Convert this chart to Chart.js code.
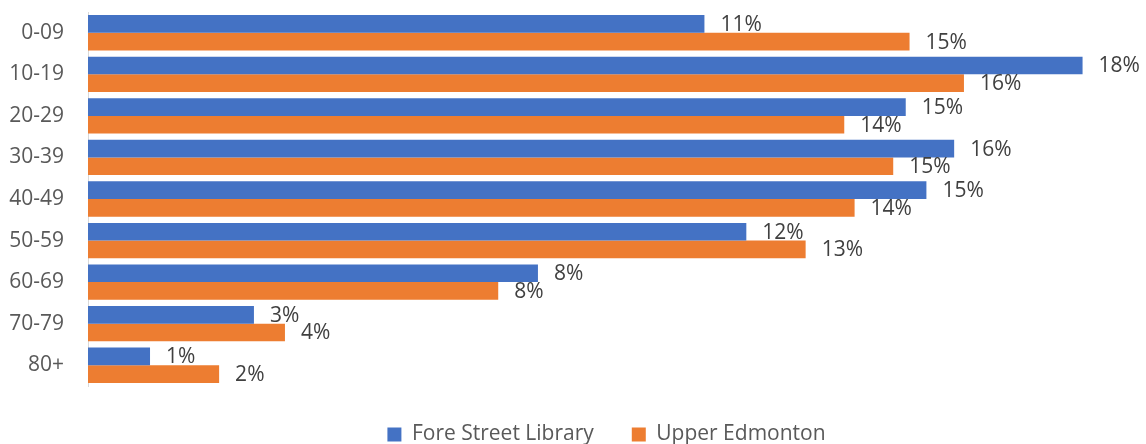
<!DOCTYPE html>
<html>
<head>
<meta charset="utf-8">
<script src="https://cdn.jsdelivr.net/npm/chart.js@4"></script>
<style>
    html, body { margin: 0; padding: 0; background: #fff; }
    #wrap { width: 1146px; height: 444px; }
</style>
</head>
<body>
<div id="wrap"><canvas id="ageChart"></canvas></div>
<script>
// Age bands and share of members per library
const ageBands = ['0-09', '10-19', '20-29', '30-39', '40-49', '50-59', '60-69', '70-79', '80+'];
const foreStreet = [0.1133, 0.1828, 0.1503, 0.1592, 0.1541, 0.1210, 0.0827, 0.0305, 0.0114];
const upperEdmonton = [0.1510, 0.1610, 0.1390, 0.1480, 0.1409, 0.1319, 0.0754, 0.0362, 0.0241];
const seriesNames = ['Fore Street Library', 'Upper Edmonton'];

const FONT = '"Open Sans", "Noto Sans", sans-serif';

// percent labels just past the end of each bar
const barLabels = {
    id: 'barLabels',
    afterDatasetsDraw(chart) {
        const ctx = chart.ctx;
        ctx.save();
        ctx.font = '21px ' + FONT;
        ctx.fillStyle = '#404040';
        ctx.textAlign = 'left';
        ctx.textBaseline = 'middle';
        chart.data.datasets.forEach((ds, i) => {
            const meta = chart.getDatasetMeta(i);
            meta.data.forEach((bar, j) => {
                const txt = Math.round(ds.data[j] * 100) + '%';
                ctx.fillText(txt, bar.x + 16, bar.y + 1);
            });
        });
        ctx.restore();
    }
};

// legend sits centred under the plot area, not the whole canvas
const centerLegend = {
    id: 'centerLegend',
    afterLayout(chart) {
        const lg = chart.legend, a = chart.chartArea;
        const dx = (a.left + a.right) / 2 - (lg.left + lg.right) / 2;
        lg.left += dx;
        lg.right += dx;
    }
};

new Chart(document.getElementById('ageChart'), {
    type: 'bar',
    data: {
        labels: ageBands,
        datasets: [
            { label: seriesNames[0], data: foreStreet, backgroundColor: '#4472C4' },
            { label: seriesNames[1], data: upperEdmonton, backgroundColor: '#ED7D31' }
        ]
    },
    options: {
        indexAxis: 'y',
        responsive: true,
        maintainAspectRatio: false,
        animation: false,
        categoryPercentage: 0.85,
        barPercentage: 1,
        layout: { padding: { top: 12, right: 21, left: 6, bottom: -11 } },
        scales: {
            x: { display: false, min: 0, max: 0.1906 },
            y: {
                grid: { display: false },
                border: { display: true, color: '#d9d9d9', width: 1 },
                ticks: { color: '#595959', font: { family: FONT, size: 21 }, padding: 16 },
                // fixed axis width, and no extra tick-label padding above/below
                afterFit(s) {
                    s.width = 82;
                    s.paddingTop = 0;
                    s.paddingBottom = 0;
                }
            }
        },
        plugins: {
            legend: {
                position: 'bottom',
                labels: {
                    color: '#595959',
                    font: { family: FONT, size: 21 },
                    boxWidth: 14,
                    boxHeight: 14,
                    padding: 38
                }
            },
            tooltip: { enabled: false }
        }
    },
    plugins: [barLabels, centerLegend]
});
</script>
</body>
</html>
